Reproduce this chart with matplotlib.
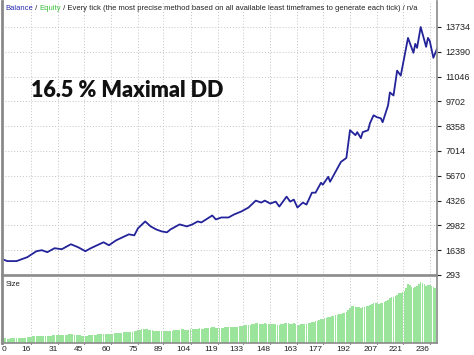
import matplotlib.pyplot as plt
import numpy as np

# balance curve (trade number -> balance)
trade_no = [0, 3, 8, 14, 19, 22, 25, 29, 33, 38, 42, 46, 49, 56, 59, 63, 70, 73,
            75, 79, 82, 85, 88, 91, 93, 98, 102, 105, 108, 110, 116, 118, 121,
            125, 128, 132, 136, 140, 143, 145, 148, 151, 153, 157, 159, 161,
            163, 166, 168, 171, 173, 176, 177, 180, 181, 187, 190, 192, 195,
            196, 198, 199, 202, 203, 205, 207, 209, 210, 213, 214, 216, 218,
            220, 224, 227, 228, 229, 231, 234, 235, 236, 238, 240]
balance = [1153, 1046, 1046, 1261, 1583, 1637, 1529, 1745, 1691, 1960, 1798,
           1583, 1745, 2067, 1906, 2175, 2497, 2443, 2820, 3196, 2927, 2766,
           2658, 2605, 2766, 3035, 2927, 3035, 3196, 3142, 3519, 3304, 3411,
           3411, 3572, 3734, 3949, 4325, 4217, 4325, 4164, 4271, 4002, 4540,
           4271, 4379, 3949, 4217, 4110, 4755, 4755, 5293, 5185, 5615, 5346,
           6422, 6637, 8142, 7873, 8034, 7712, 8034, 8142, 8518, 8948, 8841,
           8787, 8572, 9486, 10185, 10024, 11368, 11099, 13142, 12335, 12819,
           12604, 13733, 12658, 13142, 12980, 12066, 12550]

# lot size per trade (bottom panel)
sizes = [
    0.05, 0.05, 0.05, 0.04, 0.04, 0.05, 0.05, 0.05, 0.05, 0.05,
    0.05, 0.05, 0.05, 0.05, 0.06, 0.06, 0.06, 0.07, 0.07, 0.07,
    0.07, 0.07, 0.07, 0.07, 0.07, 0.07, 0.07, 0.07, 0.08, 0.08,
    0.08, 0.08, 0.08, 0.08, 0.08, 0.08, 0.08, 0.09, 0.09, 0.09,
    0.08, 0.08, 0.08, 0.08, 0.07, 0.07, 0.07, 0.07, 0.08, 0.08,
    0.08, 0.08, 0.08, 0.09, 0.09, 0.09, 0.09, 0.09, 0.09, 0.09,
    0.09, 0.09, 0.10, 0.10, 0.10, 0.10, 0.10, 0.11, 0.11, 0.11,
    0.11, 0.11, 0.11, 0.12, 0.12, 0.13, 0.13, 0.14, 0.14, 0.14,
    0.14, 0.13, 0.13, 0.13, 0.12, 0.12, 0.12, 0.12, 0.12, 0.12,
    0.12, 0.12, 0.12, 0.12, 0.12, 0.13, 0.13, 0.13, 0.13, 0.14,
    0.14, 0.13, 0.13, 0.13, 0.14, 0.14, 0.14, 0.14, 0.14, 0.15,
    0.14, 0.14, 0.15, 0.15, 0.15, 0.15, 0.16, 0.16, 0.15, 0.15,
    0.15, 0.15, 0.15, 0.16, 0.16, 0.16, 0.16, 0.16, 0.16, 0.16,
    0.16, 0.17, 0.17, 0.17, 0.18, 0.18, 0.18, 0.18, 0.19, 0.19,
    0.20, 0.20, 0.19, 0.19, 0.19, 0.20, 0.19, 0.19, 0.19, 0.19,
    0.19, 0.19, 0.18, 0.18, 0.19, 0.19, 0.20, 0.20, 0.20, 0.19,
    0.19, 0.20, 0.19, 0.18, 0.18, 0.19, 0.19, 0.19, 0.19, 0.20,
    0.20, 0.21, 0.21, 0.22, 0.22, 0.23, 0.24, 0.24, 0.25, 0.25,
    0.26, 0.26, 0.27, 0.27, 0.28, 0.28, 0.29, 0.29, 0.30, 0.30,
    0.31, 0.33, 0.35, 0.37, 0.37, 0.36, 0.36, 0.36, 0.35, 0.36,
    0.36, 0.37, 0.37, 0.38, 0.39, 0.40, 0.40, 0.40, 0.39, 0.40,
    0.40, 0.41, 0.42, 0.43, 0.45, 0.46, 0.46, 0.47, 0.48, 0.50,
    0.50, 0.51, 0.52, 0.55, 0.59, 0.58, 0.56, 0.55, 0.56, 0.57,
    0.59, 0.61, 0.60, 0.59, 0.57, 0.58, 0.58, 0.57, 0.56, 0.55,
]

x_ticks = [0, 16, 31, 45, 60, 75, 89, 104, 119, 133, 148, 163, 177, 192, 207,
           221, 236]
y_ticks = [293, 1638, 2982, 4326, 5670, 7014, 8358, 9702, 11046, 12390, 13734]

W, H = 474, 355
fig = plt.figure(figsize=(W / 100, H / 100), dpi=100)
ax = fig.add_axes([2 / W, 1 - 275 / H, 435 / W, 274 / H])
axs = fig.add_axes([2 / W, 1 - 343 / H, 435 / W, 67 / H])

frame = "#8a8a8a"
grid_kw = dict(color="#c4c4c4", linestyle=(0, (1, 2)), linewidth=0.7)
tick_font = ["Liberation Sans", "DejaVu Sans"]
small_font = ["Liberation Sans Narrow", "Liberation Sans"]

# main balance panel
ax.plot(trade_no, balance, color="#23239a", linewidth=1.3)
ax.set_xlim(0, 240)
ax.set_ylim(293, 15143)
ax.set_xticks(x_ticks)
ax.set_yticks(y_ticks)
ax.yaxis.tick_right()
ax.tick_params(axis="x", labelbottom=False, length=0)
ax.tick_params(axis="y", length=3, pad=3, labelsize=6.5, colors="#222222")
for lab in ax.get_yticklabels():
    lab.set_family(tick_font)
ax.grid(True, **grid_kw)
for side, sp in ax.spines.items():
    sp.set_color(frame)
    sp.set_linewidth(1.2)
ax.spines["left"].set_linewidth(2)
ax.spines["top"].set_visible(False)

# header line with coloured words
t = ax.text(0.008, 0.985, "Balance", transform=ax.transAxes, color="#2a2ab0",
            fontsize=5.5, va="top", family=small_font)
parts = [(" / ", "#222222"), ("Equity", "#3cbf3c"),
         (" / Every tick (the most precise method based on all available least "
          "timeframes to generate each tick) / n/a", "#222222")]
for txt, col in parts:
    t = ax.annotate(txt, xy=(1, 0), xycoords=t, va="bottom", ha="left",
                    color=col, fontsize=5.5, family=small_font)

ax.text(0.066, 0.675, "16.5 % Maximal DD", transform=ax.transAxes,
        fontsize=15.5, fontweight="heavy", color="#111111", va="center",
        family=["Lato", "DejaVu Sans"])

# size panel
axs.bar(range(len(sizes)), sizes, width=0.85, color="#9be49b",
        edgecolor="none")
axs.set_xlim(0, 240)
axs.set_ylim(0, 0.67)
axs.set_yticks([])
axs.set_xticks(x_ticks)
axs.set_xticklabels([str(v) for v in x_ticks])
axs.tick_params(axis="x", length=1, pad=1.5, labelsize=6, colors="#222222")
for lab in axs.get_xticklabels():
    lab.set_family(tick_font)
    lab.set_horizontalalignment("right")
axs.get_xticklabels()[0].set_horizontalalignment("left")
axs.grid(True, axis="x", **grid_kw)
for side, sp in axs.spines.items():
    sp.set_color(frame)
    sp.set_linewidth(1.2)
axs.spines["left"].set_linewidth(2)
axs.text(0.008, 0.93, "Size", transform=axs.transAxes, fontsize=5.5,
         va="top", color="#222222", family=small_font)

fig.savefig("out.png", dpi=100)
